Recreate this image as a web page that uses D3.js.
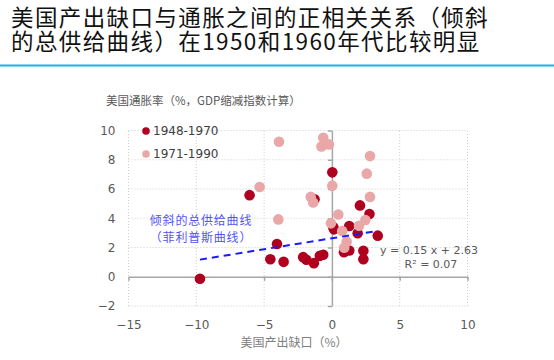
<!DOCTYPE html>
<html>
<head>
<meta charset="utf-8">
<script src="https://cdn.jsdelivr.net/npm/d3@7"></script>
<style>
  body { margin: 0; background: #fff; }
  svg { display: block; }
</style>
</head>
<body>
<div id="chart"></div>
<script>
// data (x = output gap %, y = inflation %)
var gap1948 = [-9.73, -6.07, -4.05, -4.54, -3.56, -1.28, -2.12, -1.88, -1.33, -0.89, -0.64,
  0.03, 0.15, 1.28, 2.07, 2.77, 1.9, 3.38, 0.89, 1.28, 2.32, 2.32, 0.1];
var infl1948 = [-0.14, 5.58, 2.24, 1.2, 1.02, 5.3, 1.34, 1.16, 0.93, 1.43, 1.5,
  7.14, 3.24, 3.47, 4.88, 4.29, 2.97, 2.81, 1.68, 1.79, 1.77, 1.2, 3.4];
var gap1971 = [-3.9, -0.64, -0.77, -0.22, 2.81, 2.57, -5.33, 0.03, -1.56, -1.38, 2.81,
  -3.95, 0.47, 2.47, 2.0, -0.07, 0.76, 1.09, 0.91];
var infl1971 = [9.23, 9.5, 8.91, 9.05, 8.25, 7.05, 6.14, 6.23, 5.46, 5.08, 5.46,
  3.92, 4.26, 3.88, 3.49, 3.65, 3.13, 2.4, 1.99];
var seriesNames = ["1948-1970", "1971-1990"];
var xTicks = [-15, -10, -5, 0, 5, 10];
var yTicks = [-2, 0, 2, 4, 6, 8, 10];
var slope = 0.15, intercept = 2.63, r2 = 0.07;

var svgWidth = 554, svgHeight = 360;
var darkColour = "#b0001f", pinkColour = "#eaa7a7";
var axisGrey = "#a6a6a6", gridColour = "#cfcfcf", labelColour = "#595959";
var numFont = "'DejaVu Sans', Verdana, sans-serif";
var cjkFont = "'Noto Sans CJK SC', sans-serif";

var svg = d3.select("#chart").append("svg")
    .attr("width", svgWidth).attr("height", svgHeight);

//title, two lines
["美国产出缺口与通胀之间的正相关关系（倾斜", "的总供给曲线）在1950和1960年代比较明显"].forEach(function(t, i) {
    svg.append("text").text(t)
        .attr("x", 11).attr("y", 26 + i * 24)
        .attr("font-family", cjkFont).attr("font-size", 22.5).attr("fill", "#111")
        .style("letter-spacing", "1.4px");
});
svg.append("line")
    .attr("x1", 0).attr("x2", svgWidth).attr("y1", 65.5).attr("y2", 65.5)
    .style("stroke", "#12b4f2").style("stroke-width", 2);

//scales
var x = d3.scaleLinear().domain([-15, 10]).range([128.5, 467.5]);
var y = d3.scaleLinear().domain([-2, 10]).range([306, 130.5]);

//grid
var grid = svg.append("g");
xTicks.filter(function(d) { return d !== 0; }).forEach(function(d) {
    grid.append("line")
        .attr("x1", x(d)).attr("x2", x(d)).attr("y1", y(-2)).attr("y2", y(10))
        .style("stroke", gridColour).style("stroke-dasharray", "1,2");
});
yTicks.filter(function(d) { return d !== 0; }).forEach(function(d) {
    grid.append("line")
        .attr("x1", x(-15)).attr("x2", x(10)).attr("y1", y(d)).attr("y2", y(d))
        .style("stroke", gridColour).style("stroke-dasharray", "1,2");
});

//axis lines through the origin
var xAxis = svg.append("g").attr("transform", "translate(0," + y(0) + ")")
    .call(d3.axisBottom(x).tickValues(xTicks).tickFormat("").tickSizeInner(4).tickSizeOuter(0));
var yAxis = svg.append("g").attr("transform", "translate(" + x(0) + ",0)")
    .call(d3.axisLeft(y).tickValues(yTicks).tickFormat("").tickSizeInner(4).tickSizeOuter(0));
[xAxis, yAxis].forEach(function(a) {
    a.selectAll("path, line").style("stroke", axisGrey).style("stroke-width", 1.5);
});

//tick labels on the plot edges
var xLab = svg.append("g").attr("transform", "translate(0," + y(-2) + ")")
    .call(d3.axisBottom(x).tickValues(xTicks).tickSize(0).tickPadding(14));
var yLab = svg.append("g").attr("transform", "translate(" + x(-15) + ",0)")
    .call(d3.axisLeft(y).tickValues(yTicks).tickSize(0).tickPadding(13));
[xLab, yLab].forEach(function(a) {
    a.select(".domain").remove();
    a.selectAll("text").attr("font-family", numFont).attr("font-size", 12).attr("fill", labelColour);
});

//axis titles
svg.append("text").text("美国通胀率（%，GDP缩减指数计算）")
    .attr("x", 106).attr("y", 105)
    .attr("font-family", cjkFont).attr("font-size", 11.5).attr("fill", labelColour);
svg.append("text").text("美国产出缺口（%）")
    .attr("x", 294).attr("y", 347).attr("text-anchor", "middle")
    .attr("font-family", cjkFont).attr("font-size", 12).attr("fill", "#808080");

//points
var plotArea = svg.append("g");
function plotSeries(xs, ys, colour) {
    plotArea.selectAll(null).data(d3.zip(xs, ys)).enter().append("circle")
        .attr("cx", function(d) { return x(d[0]); })
        .attr("cy", function(d) { return y(d[1]); })
        .attr("r", 5.3)
        .attr("fill", colour);
}
plotSeries(gap1948, infl1948, darkColour);
plotSeries(gap1971, infl1971, pinkColour);

//trend line across the data range
var allX = gap1948.concat(gap1971);
var xMin = d3.min(allX), xMax = d3.max(allX);
svg.append("line")
    .attr("x1", x(xMin)).attr("y1", y(slope * xMin + intercept))
    .attr("x2", x(xMax)).attr("y2", y(slope * xMax + intercept))
    .style("stroke", "#1a1aff").style("stroke-width", 2).style("stroke-dasharray", "7,5");

//equation
var eq = svg.append("text").attr("text-anchor", "middle")
    .attr("font-family", numFont).attr("font-size", 11).attr("fill", labelColour);
eq.append("tspan").attr("x", 429).attr("y", 254)
    .text("y = " + slope.toFixed(2) + " x + " + intercept.toFixed(2));
eq.append("tspan").attr("x", 431).attr("y", 268).text("R² = " + r2.toFixed(2));

//annotation
var note = svg.append("text").attr("text-anchor", "middle")
    .attr("font-family", cjkFont).attr("font-size", 12).attr("fill", "#5555ee")
    .style("letter-spacing", "0.8px");
note.append("tspan").attr("x", 201).attr("y", 225).text("倾斜的总供给曲线");
note.append("tspan").attr("x", 201).attr("y", 242).text("（菲利普斯曲线）");

//legend
var legend = svg.append("g");
[darkColour, pinkColour].forEach(function(c, i) {
    legend.append("circle").attr("cx", 146).attr("cy", 131 + i * 23).attr("r", 3.8).attr("fill", c);
    legend.append("text").text(seriesNames[i])
        .attr("x", 153).attr("y", 131 + i * 23).attr("dy", "0.35em")
        .attr("font-family", numFont).attr("font-size", 12).attr("fill", "#404040");
});
</script>
</body>
</html>
